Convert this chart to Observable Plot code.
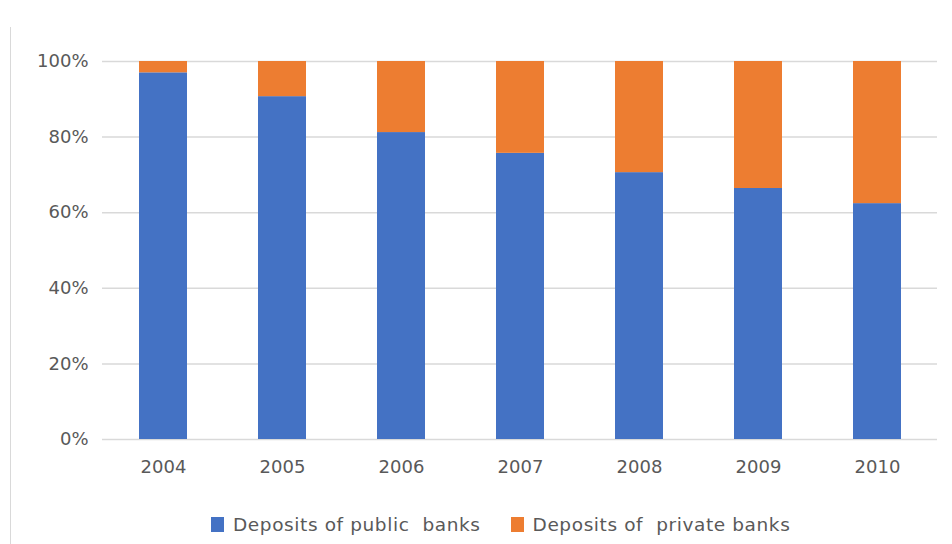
<!DOCTYPE html>
<html>
<head>
<meta charset="utf-8">
<script src="https://cdn.jsdelivr.net/npm/d3@7"></script>
<script src="https://cdn.jsdelivr.net/npm/@observablehq/plot@0.6"></script>
<style>
  html, body { margin: 0; padding: 0; background: #fff; }
  #wrap { position: relative; width: 952px; height: 544px; font-family: "DejaVu Sans", sans-serif; }
  #vline { position: absolute; left: 10px; top: 27px; width: 1px; height: 517px; background: #d9d9d9; }
  #chart { position: absolute; left: 0; top: 0; }
  #legend { position: absolute; left: 0; top: 512px; height: 24px; width: 952px; display: flex; align-items: center; padding-left: 211px; box-sizing: border-box; font-size: 18.5px; letter-spacing: 0.6px; color: #595959; white-space: pre; }
  .item { display: flex; align-items: center; margin-right: 30px; }
  .sw { width: 13px; height: 15px; margin-right: 9px; }
</style>
</head>
<body>
<div id="wrap">
  <div id="vline"></div>
  <div id="chart"></div>
  <div id="legend"></div>
</div>
<script>
const years = ["2004", "2005", "2006", "2007", "2008", "2009", "2010"];
const publicShare = [97.0, 90.7, 81.2, 75.7, 70.6, 66.4, 62.4];
const seriesNames = ["Deposits of public  banks", "Deposits of  private banks"];
const seriesColors = ["#4472C4", "#ED7D31"];
const yTicks = [0, 20, 40, 60, 80, 100];

const rows = [];
years.forEach((y, i) => {
  rows.push({year: y, series: seriesNames[0], value: publicShare[i]});
  rows.push({year: y, series: seriesNames[1], value: 100 - publicShare[i]});
});

const chart = Plot.plot({
  width: 952,
  height: 495,
  marginTop: 61,
  marginBottom: 56,
  marginLeft: 102,
  marginRight: 15,
  style: {fontFamily: '"DejaVu Sans", sans-serif', fontSize: "18px", color: "#595959", background: "transparent"},
  x: {domain: years, paddingInner: 0.6, paddingOuter: 0.3, label: null, tickSize: 0, tickPadding: 21},
  y: {domain: [0, 100], ticks: yTicks, tickFormat: d => d + "%", label: null, tickSize: 0, tickPadding: 14},
  color: {domain: seriesNames, range: seriesColors},
  marks: [
    Plot.ruleY(yTicks, {stroke: "#d9d9d9", strokeWidth: 1.5}),
    Plot.barY(rows, {x: "year", y: "value", fill: "series", inset: 0})
  ]
});
document.getElementById("chart").appendChild(chart);

const legend = document.getElementById("legend");
seriesNames.forEach((name, i) => {
  const item = document.createElement("div");
  item.className = "item";
  const sw = document.createElement("span");
  sw.className = "sw";
  sw.style.background = seriesColors[i];
  const tx = document.createElement("span");
  tx.textContent = name;
  item.appendChild(sw);
  item.appendChild(tx);
  legend.appendChild(item);
});
</script>
</body>
</html>
